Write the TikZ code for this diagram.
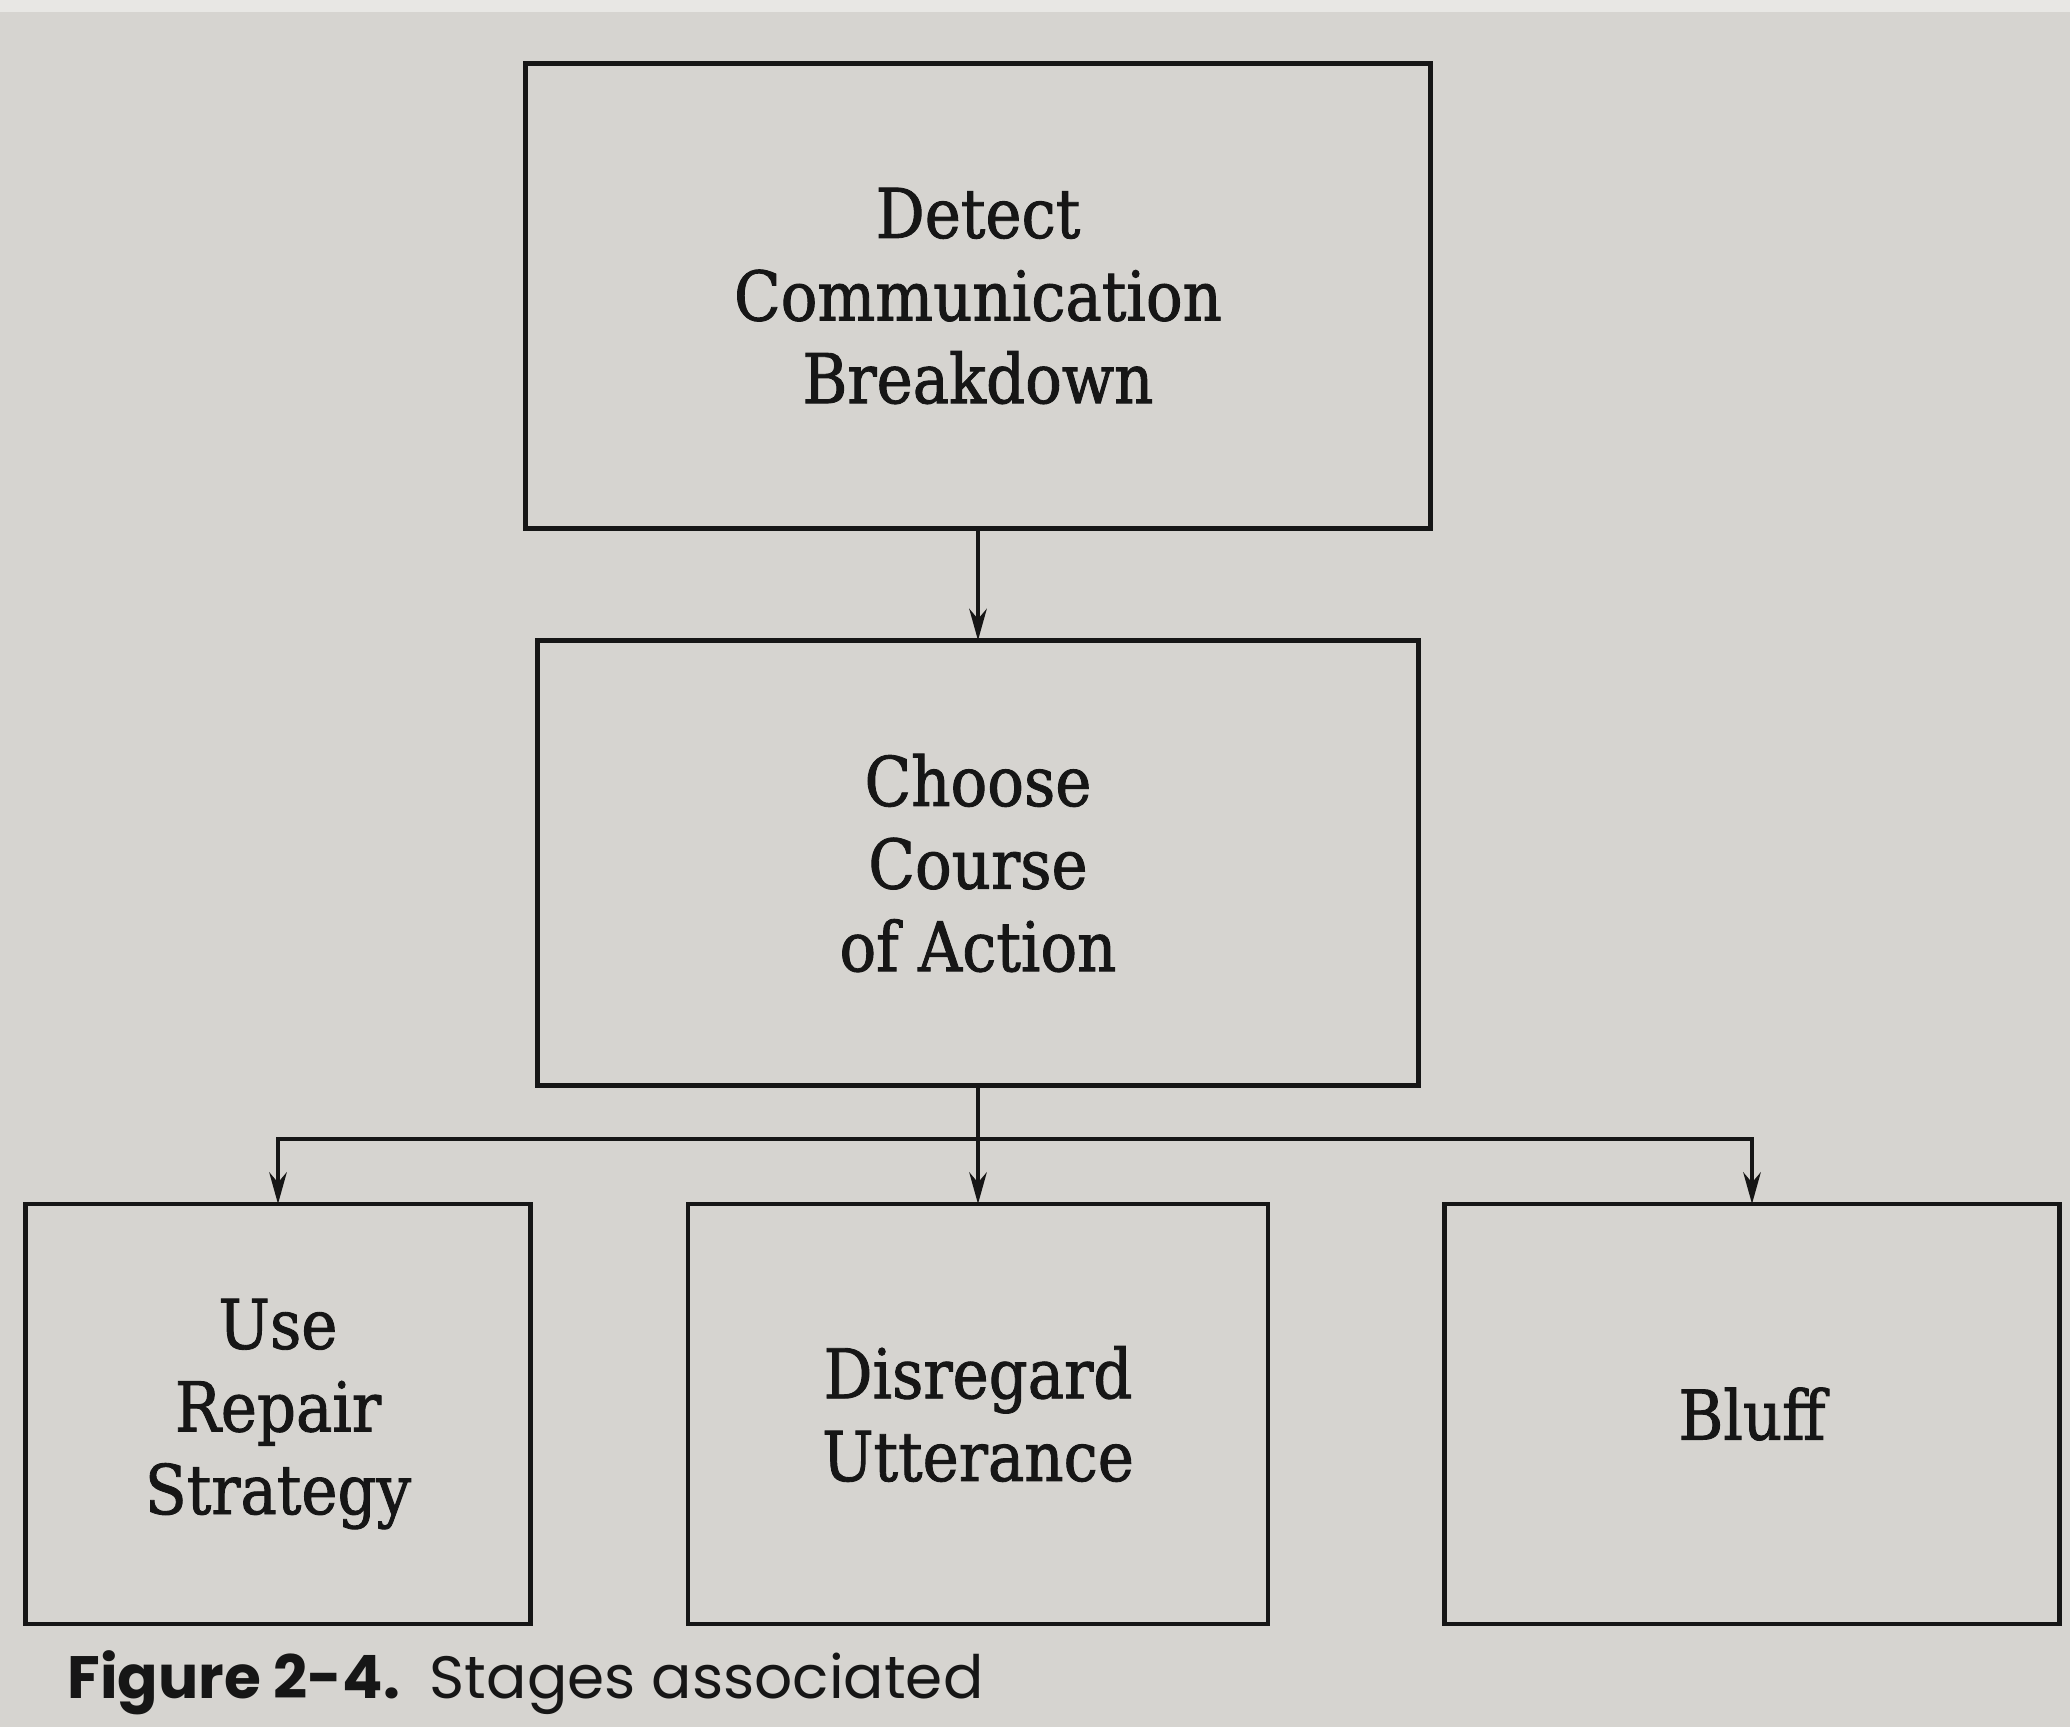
\documentclass[tikz,border=0pt]{standalone}
\usepackage{fontspec}
\usepackage{xcolor}
\usepackage{tikz}
\usetikzlibrary{arrows.meta,positioning,calc}
\newfontfamily\stagefont{DejaVu Serif}[FakeStretch=0.89, FakeBold=1.3]
\newfontfamily\captionfont{Poppins}
\definecolor{paper}{RGB}{214,212,208}
\definecolor{paperedge}{RGB}{232,231,228}
\definecolor{ink}{RGB}{22,22,22}

\begin{document}
\begin{tikzpicture}[x=0.01cm, y=-0.01cm,
    stagebox/.style={draw=ink, line width=1.3pt, inner sep=0pt, outer sep=0pt,
        align=center, text=ink, font=\stagefont\fontsize{19.5}{23.5}\selectfont},
    flow/.style={draw=ink, line width=0.9pt, -{Stealth[length=9pt, width=5pt]}},
    busflow/.style={draw=ink, line width=1pt,
        {Stealth[length=9pt, width=5pt]}-{Stealth[length=9pt, width=5pt]}}]
    % page
    \fill[paper] (0,0) rectangle (2070,1727);
    \fill[paperedge] (0,0) rectangle (2070,12);
    \useasboundingbox (0,0) rectangle (2070,1727);

    % first two stages
    \node[stagebox, minimum width=9.05cm, minimum height=4.65cm] (detect) at (978,296) {Detect\\Communication\\Breakdown};
    \node[stagebox, minimum width=8.8cm, minimum height=4.45cm] (choose) at (978,863) {Choose\\Course\\of Action};

    % courses of action
    \node[stagebox, minimum width=5.05cm, minimum height=4.2cm] (repair) at (278,1414) {Use\\Repair\\Strategy};
    \node[stagebox, minimum width=5.8cm, minimum height=4.2cm] (disregard) at (978,1414) {Disregard\\Utterance};
    \node[stagebox, minimum width=6.15cm, minimum height=4.2cm] (bluff) at (1752,1414) {Bluff};

    % connectors
    \draw[flow] (detect) -- (choose);
    \draw[flow] (choose) -- (disregard);
    \coordinate (bus) at ($(choose.south)!0.45!(disregard.north)$);
    \draw[busflow] (repair.north) |- (bus) -| (bluff.north);

    % caption
    \node[anchor=base west, text=ink, font=\captionfont\fontsize{17}{20}\selectfont] (caption) at (55,1698) {\textbf{Figure 2-4.}\enspace Stages associated};
\end{tikzpicture}
\end{document}
